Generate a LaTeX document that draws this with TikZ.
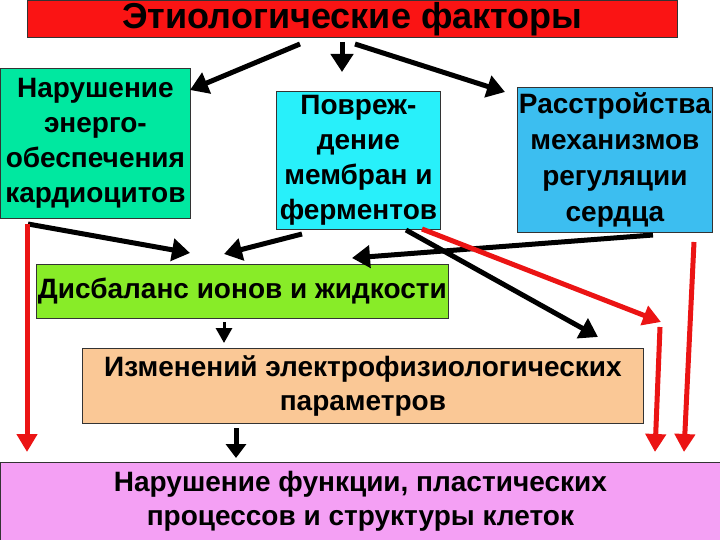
\documentclass[tikz,border=0pt]{standalone}
\usepackage{fontspec}
\setmainfont{Liberation Sans}
\usetikzlibrary{arrows.meta}
\definecolor{cred}{RGB}{250,20,20}
\definecolor{cmint}{RGB}{0,232,160}
\definecolor{ccyan}{RGB}{40,240,250}
\definecolor{cblue}{RGB}{60,190,240}
\definecolor{clime}{RGB}{136,236,40}
\definecolor{cpeach}{RGB}{250,200,150}
\definecolor{cpink}{RGB}{244,160,244}
\definecolor{arred}{RGB}{235,20,20}
\tikzset{
 box/.style={draw=black!80, line width=0.8pt, align=center, font=\bfseries, inner sep=0pt, anchor=north west},
 blk/.style={line width=5pt, -{Triangle[length=18pt,width=22pt]}},
 rd/.style={arred, line width=5pt, -{Triangle[length=18pt,width=20pt]}},
}
\begin{document}
\begin{tikzpicture}[x=1pt,y=-1pt]
\useasboundingbox (0,0) rectangle (720,540);
\node[box, fill=cred, minimum width=650pt, minimum height=37pt, font=\bfseries\fontsize{36}{38}\selectfont] (top) at (27,0) {Этиологические факторы};
\node[box, fill=cmint, minimum width=190pt, minimum height=150pt, font=\bfseries\fontsize{28}{35}\selectfont] (l) at (0,68) {Нарушение\\энерго-\\обеспечения\\кардиоцитов};
\node[box, fill=ccyan, minimum width=164pt, minimum height=138pt, font=\bfseries\fontsize{28}{35}\selectfont] (m) at (276,91) {Повреж-\\дение\\мембран и\\ферментов};
\node[box, fill=cblue, minimum width=195pt, minimum height=145pt, font=\bfseries\fontsize{28}{36}\selectfont] (r) at (517,87) {Расстройства\\механизмов\\регуляции\\сердца};
\node[box, fill=clime, minimum width=412pt, minimum height=54pt, font=\bfseries\fontsize{28}{30}\selectfont] (d) at (36,264) {Дисбаланс ионов и жидкости};
\node[box, fill=cpeach, minimum width=561pt, minimum height=75pt, font=\bfseries\fontsize{28}{34}\selectfont] (e) at (82,348) {Изменений электрофизиологических\\параметров};
\node[box, fill=cpink, minimum width=720pt, minimum height=78pt, font=\bfseries\fontsize{28}{34}\selectfont] (b) at (0,462) {Нарушение функции, пластических\\процессов и структуры клеток};
% black arrows from top
\coordinate (t1) at (342,42); \coordinate (t1e) at (342,72);
\coordinate (t2) at (300,44); \coordinate (t2e) at (190,90);
\coordinate (t3) at (355,44); \coordinate (t3e) at (505,92);
\draw[blk] (t1) -- (t1e);
\draw[blk] (t2) -- (t2e);
\draw[blk] (t3) -- (t3e);
% to dysbalance
\coordinate (a1) at (28,224); \coordinate (a1e) at (190,253);
\coordinate (a2) at (302,234); \coordinate (a2e) at (224,254);
\coordinate (a3) at (653,235); \coordinate (a3e) at (352,258);
\draw[blk] (a1) -- (a1e);
\draw[blk] (a2) -- (a2e);
\draw[blk] (a3) -- (a3e);
\coordinate (a4) at (406,230); \coordinate (a4e) at (598,337);
\draw[blk] (a4) -- (a4e);
\coordinate (r1) at (422,229); \coordinate (r1e) at (661,322);
\draw[rd] (r1) -- (r1e);
\coordinate (r2) at (27,224); \coordinate (r2e) at (27,452);
\draw[rd] (r2) -- (r2e);
\coordinate (r3) at (694,242); \coordinate (r3e) at (684,452);
\draw[rd] (r3) -- (r3e);
\coordinate (r4) at (660,327); \coordinate (r4e) at (655,452);
\draw[rd] (r4) -- (r4e);
% small triangles
\coordinate (s1) at (224,322); \coordinate (s1e) at (224,343);
\draw[line width=3pt, -{Triangle[length=15pt,width=16pt]}] (s1) -- (s1e);
\coordinate (s2) at (236,428); \coordinate (s2e) at (236,458);
\draw[line width=5pt, -{Triangle[length=14pt,width=20pt]}] (s2) -- (s2e);
\end{tikzpicture}
\end{document}
